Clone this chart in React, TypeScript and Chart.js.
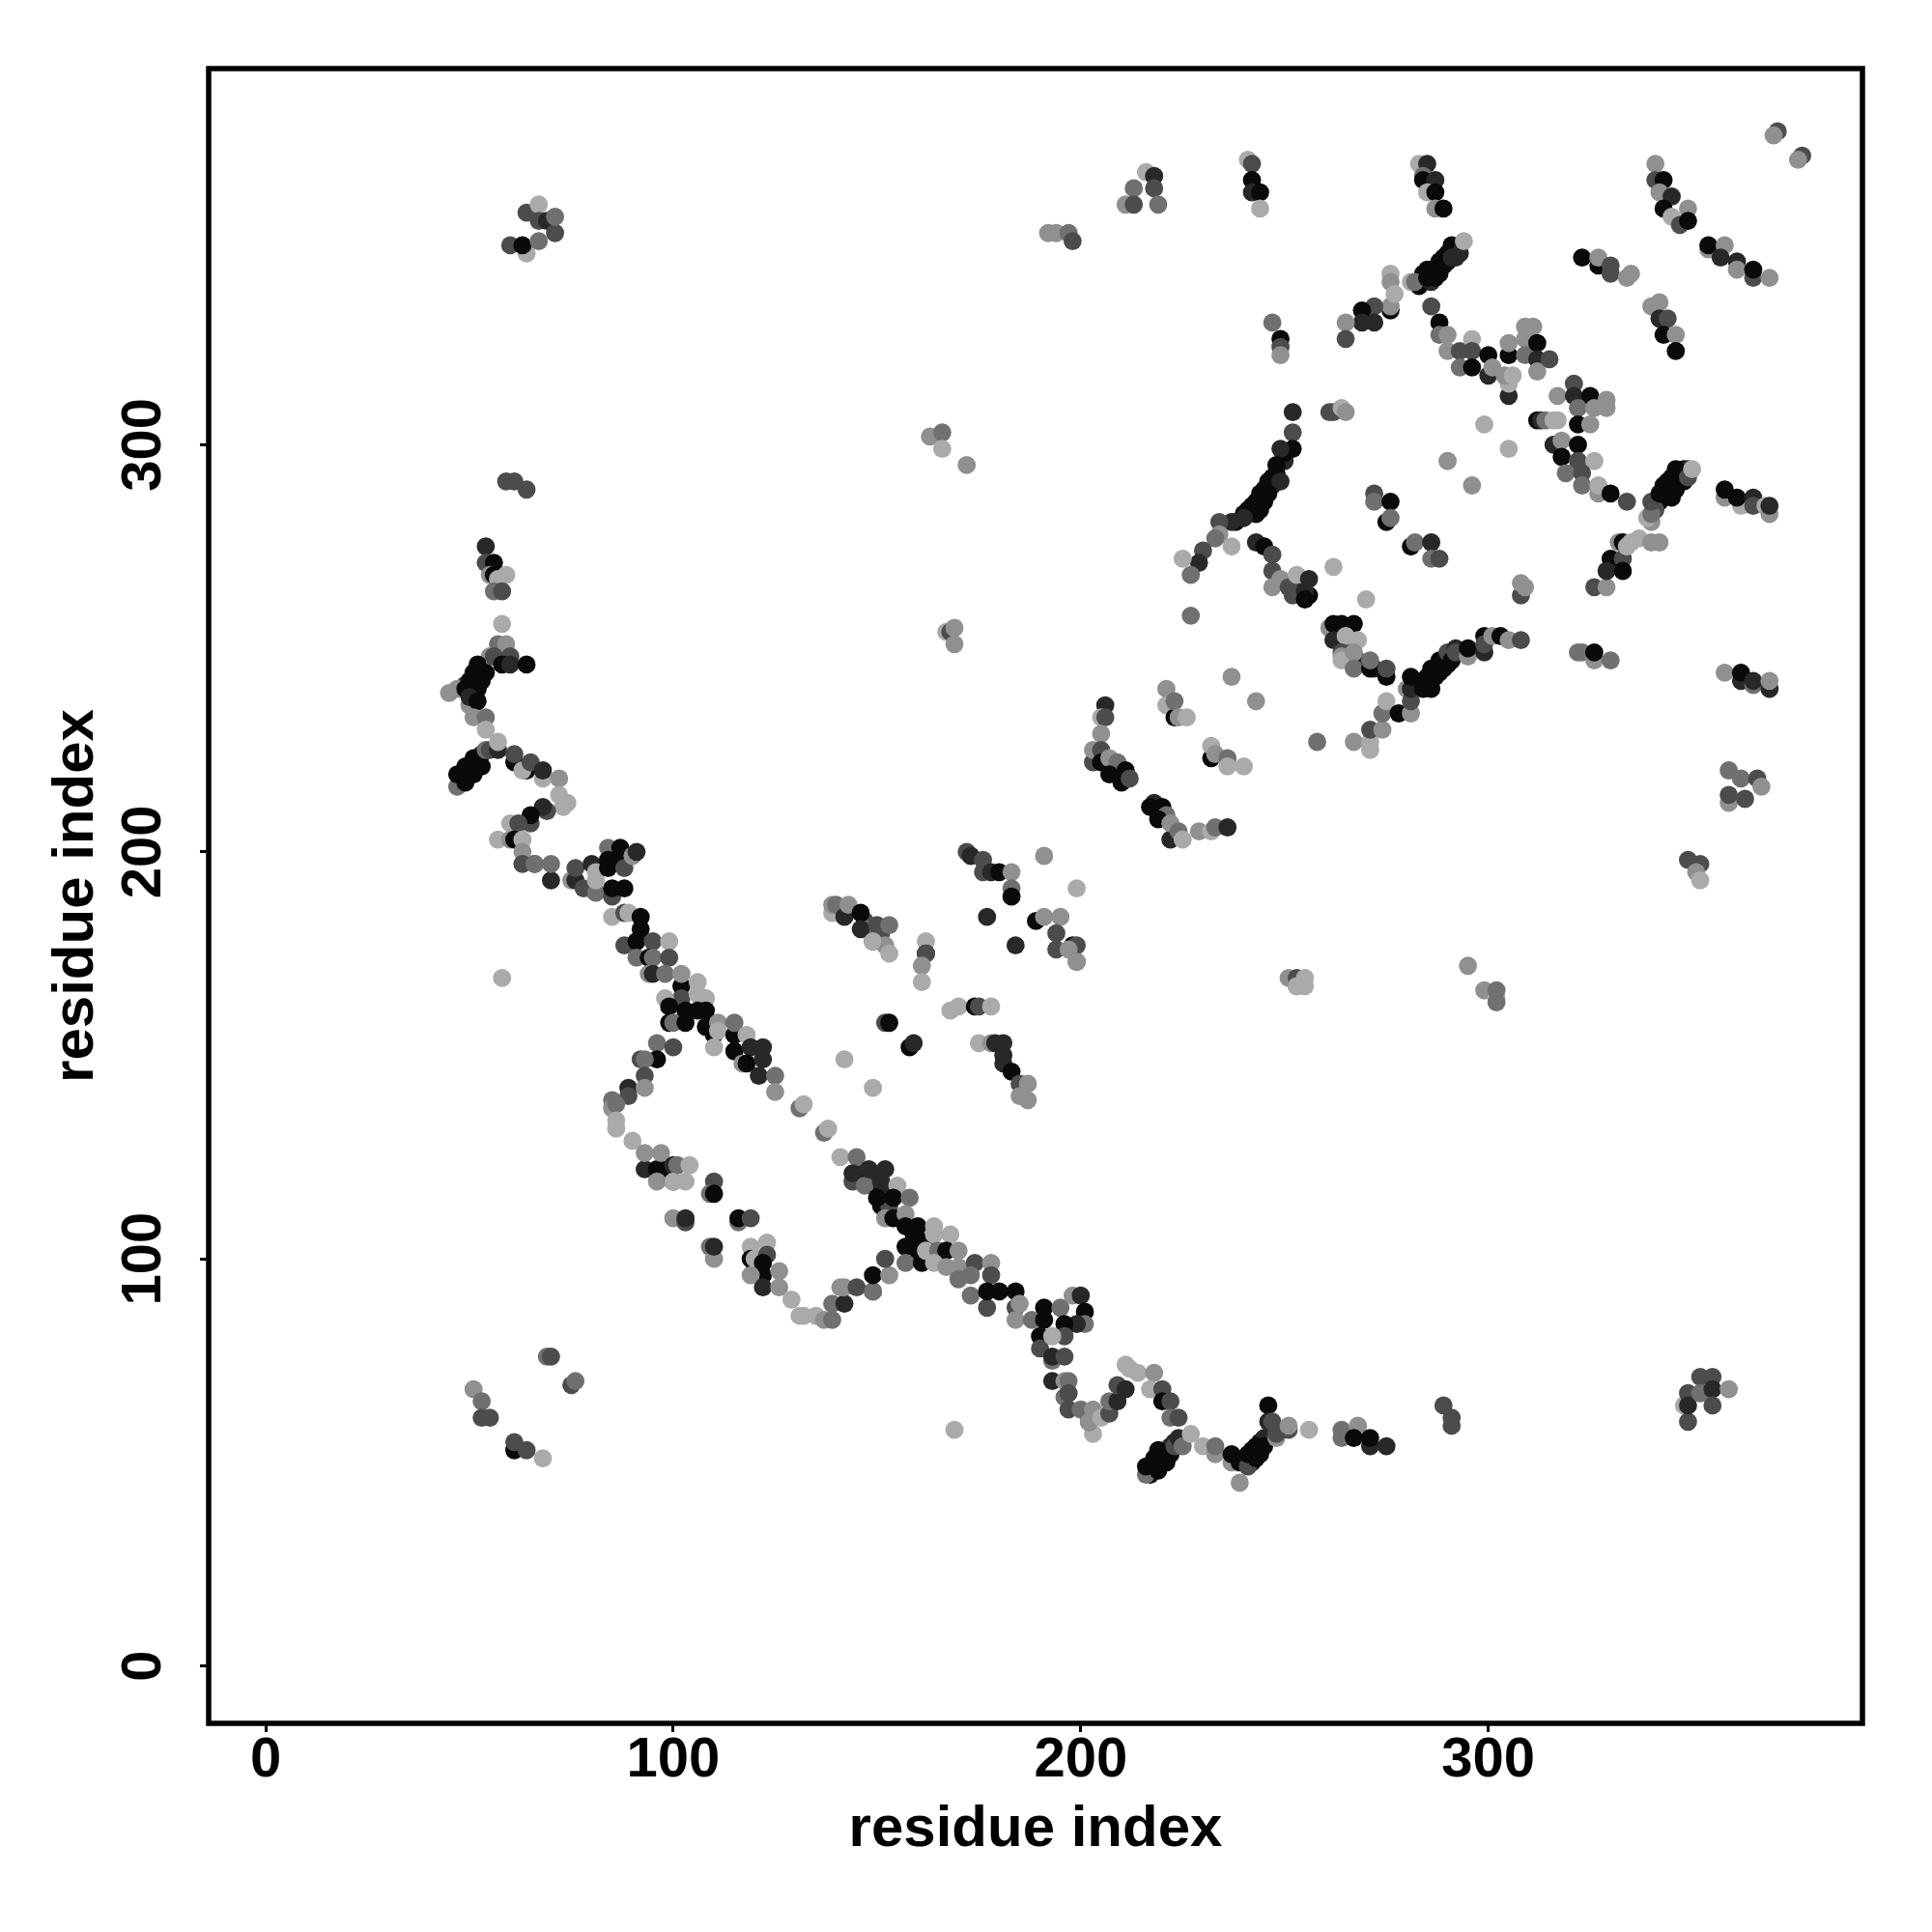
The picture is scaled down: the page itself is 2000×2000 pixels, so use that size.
import React, { useEffect, useRef } from "react";
import { Chart, registerables } from "chart.js";

Chart.register(...registerables);

const tickValues = [0, 100, 200, 300];
const axisTitle = "residue index";
const greys = ["#000000", "#0a0a0a", "#282828", "#4c4c4c", "#707070", "#909090", "#aaaaaa"];

// each row: residue i, residue j, grey level (1 = darkest, 6 = palest)
const denseBands: number[][] = [[217,47,1],[218,49,1],[217,49,1],[219,50,1],[220,51,1],[221,53,1],[222,54,2],[223,55,2],[240,50,1],[242,50,1],[242,53,1],[244,52,1],[244,55,1],[245,56,2],[48,217,1],[48,219,1],[50,219,1],[50,221,1],[52,221,1],[52,223,1],[53,224,2],[50,240,1],[51,238,1],[51,242,1],[52,244,1],[53,245,1],[238,281,1],[240,283,1],[241,284,1],[243,286,1],[245,289,1],[247,292,1],[247,290,2],[248,293,1],[250,296,2],[250,298,1],[243,283,1],[245,286,1],[283,339,1],[284,340,1],[286,340,2],[287,343,1],[288,342,1],[289,346,1],[290,347,1],[290,345,1],[292,348,2],[284,342,1],[285,343,1],[292,346,2],[293,349,3],[341,285,1],[342,286,1],[343,287,1],[344,288,1],[344,291,1],[345,290,1],[346,292,1],[347,291,1],[347,293,1],[348,294,1],[349,294,2],[348,293,2],[341,284,3],[340,281,5],[283,241,1],[285,241,1],[285,243,1],[287,243,1],[287,245,1],[289,245,1],[289,247,2],[290,246,1],[286,240,1],[284,242,1],[147,183,3],[150,180,2],[151,180,3],[152,177,5],[148,181,4],[146,121,2],[148,119,1],[149,120,2],[150,117,1],[152,117,2],[151,113,1],[153,113,3],[159,106,1],[160,102,1],[162,103,1],[163,101,1],[120,98,2],[253,264,2],[254,263,1],[256,263,1],[264,253,1],[266,250,3],[268,247,3],[270,246,2],[272,245,2]];
const helixNorth: number[][] = [[54,275,2],[54,271,3],[56,271,1],[55,268,5],[56,268,1],[57,267,6],[59,268,6],[56,264,4],[58,264,3],[58,256,6],[57,251,4],[59,251,5],[55,248,5],[60,248,3],[56,248,3],[58,246,1],[60,246,2],[64,246,1],[45,239,5],[50,236,5],[49,241,3],[47,240,5],[52,246,1],[51,244,1],[54,244,1],[50,242,1],[53,242,1],[49,240,1],[52,240,1],[50,238,2],[52,237,1],[51,233,5],[54,233,4],[54,230,6],[59,291,3],[61,291,3],[64,289,3],[58,169,6]];
const helixSouth: number[][] = [[47,216,4],[49,217,1],[47,219,1],[49,221,1],[51,223,1],[51,219,1],[53,221,1],[54,225,4],[55,225,3],[57,225,2],[57,227,6],[61,222,1],[61,224,3],[64,220,1],[63,220,6],[65,222,3],[68,218,6],[68,220,2],[72,218,5],[72,214,6],[73,211,6],[74,212,6],[69,210,3],[68,211,2],[65,207,3],[65,209,1],[60,207,6],[62,207,3],[57,203,6],[60,203,5],[61,203,1],[63,203,6],[63,200,5],[63,197,3],[66,197,3],[66,197,4],[70,193,2],[70,197,4],[75,193,5],[76,193,2],[76,196,3],[78,191,3],[81,190,1],[81,190,4],[85,189,3],[80,197,2],[81,195,6],[81,193,6],[84,201,4],[84,198,1],[84,196,1],[87,201,1],[87,199,1],[88,196,3],[90,199,5],[91,200,2],[85,191,1],[88,191,1]];
const diagonalUpper: number[][] = [[85,184,6],[88,185,3],[89,185,6],[92,184,1],[92,181,1],[88,177,3],[91,178,1],[95,178,3],[99,178,6],[91,174,4],[94,174,1],[95,174,4],[99,174,3],[94,170,5],[95,170,2],[98,170,4],[102,167,1],[102,170,5],[106,168,6],[102,164,3],[98,164,6],[106,165,6],[108,164,6],[99,162,1],[103,161,1],[106,161,1],[108,161,1],[99,158,1],[100,158,4],[103,158,1],[108,157,1],[111,158,5],[110,155,1],[111,156,6],[115,155,1],[115,158,4],[118,155,6],[110,152,6],[115,151,1],[119,152,2],[122,152,2],[117,148,5],[118,148,1],[122,149,2],[121,145,2],[125,145,4],[125,141,5],[131,137,4],[132,138,6],[137,131,4],[138,132,6],[141,125,6],[142,149,6],[149,142,6]];
const loopLeft: number[][] = [[96,153,4],[100,152,3],[96,149,1],[92,149,3],[93,149,4],[93,145,3],[89,142,2],[93,142,5],[89,140,3],[85,139,4],[85,137,5],[86,138,4],[86,134,6],[86,132,6],[90,129,6],[93,122,2],[96,122,1],[97,122,1],[93,126,5],[97,126,5],[100,123,2],[101,123,4],[104,123,6],[96,119,5],[100,119,1],[100,119,6],[103,119,6],[110,119,3],[109,116,4],[110,116,1],[100,110,5],[103,109,3],[103,110,2],[116,109,4],[116,110,1],[119,110,3],[109,103,4],[110,100,5],[110,103,2],[119,103,6],[123,104,6],[119,100,1],[120,100,6],[123,101,3],[122,99,1],[122,96,1],[126,97,5],[119,96,5],[122,93,2],[126,93,5],[129,90,6],[131,86,6],[132,86,6],[135,86,6],[137,85,5],[139,85,4],[139,89,4],[142,89,2],[141,93,5],[142,93,5],[145,93,3],[149,92,2],[149,92,4],[149,96,1],[153,96,5],[152,100,3]];
const diagonalLower: number[][] = [[145,125,4],[144,119,3],[144,121,2],[147,118,4],[148,122,2],[152,122,2],[151,119,2],[155,118,6],[150,115,1],[154,115,1],[158,115,4],[152,110,5],[154,110,1],[157,111,5],[157,108,1],[160,108,1],[160,105,1],[164,108,6],[164,106,6],[168,106,6],[157,103,1],[157,99,4],[161,99,1],[162,102,6],[165,102,4],[167,102,1],[170,102,5],[164,99,6],[167,98,5],[170,98,5],[170,95,4],[174,99,3],[178,99,5],[173,96,4],[178,96,3],[173,91,4],[177,88,3],[177,92,1],[180,92,1],[184,92,1],[184,88,3],[185,89,5],[184,85,5],[169,58,6]];
const tailEast: number[][] = [[191,88,1],[188,85,4],[191,85,1],[195,88,4],[198,91,5],[200,91,2],[201,87,1],[201,84,4],[199,84,2],[196,84,1],[190,81,1],[190,78,3],[196,81,3],[193,81,6],[193,75,4],[193,76,2],[196,76,3],[193,70,2],[196,70,5],[197,70,4],[196,66,4],[197,67,3],[197,63,3],[200,63,4],[203,57,6],[202,60,2],[202,60,5],[203,63,5],[205,61,6],[207,62,3],[207,65,4],[209,65,2],[209,69,3],[211,68,2],[211,74,6],[212,73,6],[214,72,6],[218,72,5],[217,68,6],[220,68,3],[220,65,1],[222,65,3],[222,61,4],[224,61,3]];
const tailBottom: number[][] = [[216,47,4],[216,49,1],[218,51,1],[219,48,1],[219,53,1],[221,50,1],[222,52,1],[223,54,3],[224,56,2],[225,54,4],[227,57,6],[230,54,6],[233,52,5],[233,54,4],[237,50,5],[237,52,1],[239,45,5],[239,50,1],[241,49,3],[241,52,1],[243,54,1],[243,51,1],[245,54,1],[248,56,5],[246,64,1],[246,60,2],[247,60,3],[248,57,3],[251,58,3],[251,59,5],[256,58,6],[264,56,4],[264,58,4],[268,59,5],[267,56,1],[271,54,2],[271,56,1],[275,54,2],[289,64,3],[291,59,3],[291,61,3]];
const cornerSouthWest: number[][] = [[51,68,5],[53,65,4],[53,61,3],[55,61,3],[61,53,1],[61,55,3],[64,53,3],[68,51,6],[69,76,4],[70,76,3],[75,69,3],[76,70,4]];
const cornerSouthEast: number[][] = [[348,64,6],[349,60,3],[349,67,3],[349,64,2],[352,71,3],[352,67,4],[355,71,3],[355,68,2],[355,64,3],[359,68,5]];
const cornerNorthWest: number[][] = [[60,349,3],[64,347,6],[63,349,1],[64,357,3],[67,359,6],[67,350,4],[67,355,3],[69,355,2],[71,352,3],[71,356,4]];
const centreBlocks: number[][] = [[139,185,6],[139,187,5],[140,187,4],[142,184,2],[143,187,5],[146,185,1],[146,181,2],[150,182,3],[149,178,2],[149,178,6],[153,182,4],[153,175,6],[162,178,6],[162,175,1],[162,175,3],[161,172,5],[161,168,6],[152,158,3],[153,158,1],[158,152,1],[159,153,2],[168,161,6],[170,162,6],[174,162,1],[175,162,3],[178,162,6],[175,153,6],[178,153,5],[179,153,2],[181,153,2],[181,150,2],[181,148,2],[183,146,1],[185,143,3],[187,143,5],[185,140,5],[187,139,5],[172,200,3],[173,199,2],[176,198,3],[176,195,3],[178,195,2],[180,195,1],[183,195,5],[183,191,4],[183,189,1],[177,184,2],[184,177,2],[191,199,5],[199,191,6],[189,183,1],[191,184,5],[195,184,5],[194,180,3],[194,176,3],[198,177,1],[199,177,3],[197,176,5],[199,173,3],[199,173,5],[163,302,5],[166,303,4],[166,299,6],[172,295,5],[167,254,6],[168,254,3],[169,255,5],[169,251,5]];
const arcTop: number[][] = [[192,352,5],[194,352,5],[197,352,4],[198,350,3],[211,359,5],[213,363,4],[213,359,3],[216,367,6],[218,366,2],[218,363,3],[219,359,4],[241,370,6],[242,369,3],[242,365,1],[242,362,2],[244,362,1],[244,358,6],[283,369,6],[285,369,2],[284,366,4],[284,365,1],[287,365,2],[285,362,6],[287,362,1],[287,358,5],[289,358,1],[371,377,3],[370,376,5],[377,371,3],[376,370,5]];
const strandA: number[][] = [[276,342,6],[276,340,5],[276,333,1],[276,334,5],[277,337,6],[272,334,3],[269,333,1],[272,330,2],[269,330,2],[265,330,5],[265,326,3],[281,340,6],[282,340,4],[285,341,1],[286,343,1],[287,341,1],[288,345,1],[289,344,1],[291,349,1],[291,346,2],[293,347,2],[294,350,6],[286,334,3],[288,330,1],[288,327,4],[290,327,5],[290,323,5],[293,323,3],[293,319,4],[296,326,6],[296,323,3],[296,319,1],[300,322,1],[300,317,2],[301,319,5],[305,322,1],[305,325,5],[305,312,2],[305,315,6],[304,317,5],[306,317,6],[309,329,5],[311,329,5],[309,326,5],[309,322,4],[312,325,1],[312,321,2],[312,318,5],[315,321,3]];
const strandB: number[][] = [[317,312,5],[321,315,3],[321,312,2],[325,312,1],[322,309,4],[329,311,5],[329,309,5],[326,309,5],[312,306,1],[313,306,2],[314,306,4],[316,306,6],[317,306,6],[322,305,1],[325,305,5],[316,300,2],[318,301,5],[322,300,1],[318,297,1],[322,296,3],[326,296,6],[319,293,4],[323,293,3],[323,290,4],[327,288,5],[327,290,6],[330,288,1],[334,286,3],[339,282,6],[340,283,4],[340,286,3],[342,288,1],[343,290,1],[345,292,1],[346,294,1],[345,287,1],[346,289,1],[348,291,1],[349,292,3],[350,294,6],[358,287,5],[358,289,1],[362,285,6],[361,287,1],[365,287,2],[365,285,3],[368,285,6],[369,283,5],[369,285,2]];
const strandC: number[][] = [[341,369,5],[341,365,3],[343,365,1],[342,362,5],[345,361,2],[343,358,1],[349,358,5],[345,356,6],[347,354,3],[349,355,1],[354,348,5],[354,349,1],[358,349,5],[357,346,2],[361,345,2],[361,343,5],[365,341,3],[365,343,1],[369,341,5],[323,346,1],[327,344,1],[327,346,5],[330,344,3],[330,342,3],[334,341,5],[335,342,5],[340,334,5],[342,335,5],[342,331,2],[344,331,3],[343,327,1],[346,327,5],[346,323,1],[262,308,3],[261,308,3],[264,309,6],[265,308,5],[299,305,6],[305,299,6],[290,296,5],[296,290,5],[272,288,3],[272,286,4],[276,286,1],[275,281,1],[276,282,4],[281,275,1],[282,276,4],[286,276,2],[286,272,4],[288,272,3],[262,270,6],[270,262,6],[308,263,3],[308,266,5],[309,265,5],[326,265,3],[329,265,5],[330,272,1],[333,272,3],[329,269,2],[333,269,1],[332,276,5],[333,276,1],[334,275,6],[335,276,6],[337,277,6],[340,276,5],[342,276,5]];
const strandD: number[][] = [[227,258,4],[237,243,5],[243,237,5],[258,227,4],[267,227,5],[271,225,6],[271,227,6],[271,230,3],[274,230,5],[274,234,4],[275,237,6],[278,234,1],[281,234,5],[280,240,5],[281,237,3],[281,240,2],[281,243,1],[284,240,1],[286,242,1],[286,245,1],[288,244,1],[288,247,1],[290,249,3],[291,247,1],[292,250,2],[292,249,3],[295,248,5],[295,250,1],[299,249,2],[299,253,1],[299,251,3],[301,253,5],[303,253,1],[305,252,5],[308,252,3],[261,255,5],[262,256,1],[264,256,1],[267,256,1],[262,252,2],[265,253,6],[268,252,6],[264,249,3],[264,248,5],[264,247,6],[267,249,5],[267,245,4],[271,245,1],[271,247,4],[275,243,1],[275,245,3]];
const strandE: number[][] = [[206,236,2],[205,233,6],[206,233,3],[205,229,5],[203,222,3],[203,225,5],[205,225,3],[205,222,1],[207,223,5],[209,222,4],[207,219,1],[210,217,1],[211,220,1],[212,218,3],[221,240,5],[221,236,6],[223,233,1],[223,237,4],[224,233,5],[226,233,6],[232,223,1],[232,226,6],[233,224,5],[236,223,4],[236,221,6],[240,221,6],[218,212,2],[217,211,1],[220,211,1],[221,209,4],[219,208,1],[222,203,2],[222,207,5],[224,205,4],[225,203,6],[229,205,5],[232,205,6],[233,206,4],[236,206,2]];
const strandF: number[][] = [[252,308,2],[252,303,3],[252,299,1],[249,299,2],[248,295,1],[246,291,1],[249,291,2],[244,288,1],[246,288,1],[242,285,1],[244,284,1],[240,282,2],[237,281,2],[234,281,3],[234,278,5],[233,277,4],[237,275,6],[230,274,3],[229,271,2],[225,272,6],[227,268,4],[243,276,2],[245,275,1],[247,273,3],[247,269,3],[247,265,5],[249,267,5],[251,265,3],[252,263,3],[253,268,6],[255,264,2],[255,262,1],[256,267,2],[247,330,4],[249,326,1],[249,324,3],[249,322,5]];
const strandG: number[][] = [[251,169,5],[253,169,3],[253,167,4],[253,167,6],[255,167,6],[255,169,6],[295,172,5],[299,166,5],[302,164,6],[302,163,4],[302,166,4],[358,244,5],[362,242,2],[362,244,1],[365,241,4],[365,242,2],[369,240,2],[369,242,5],[322,249,4],[323,249,4],[326,247,5],[326,249,1],[330,247,4],[359,220,4],[362,218,4],[366,218,3],[359,212,5],[359,214,3],[363,213,3],[367,216,5],[349,198,3],[352,197,3],[351,195,5],[352,193,6]];

const contacts = [
  ...denseBands, ...helixNorth, ...helixSouth, ...diagonalUpper, ...loopLeft, ...diagonalLower, ...tailEast, ...tailBottom,
  ...cornerSouthWest, ...cornerSouthEast, ...cornerNorthWest, ...centreBlocks, ...arcTop,
  ...strandA, ...strandB, ...strandC, ...strandD, ...strandE, ...strandF, ...strandG,
];

const FONT = "'Liberation Sans', Arial, sans-serif";

const framePlugin = {
  id: "frame",
  afterDraw(chart: any) {
    const { ctx, chartArea: a, scales } = chart;
    ctx.save();
    ctx.strokeStyle = "#000";
    ctx.lineWidth = 5.5;
    ctx.strokeRect(a.left, a.top, a.right - a.left, a.bottom - a.top);
    ctx.fillStyle = "#000";
    ctx.font = `bold 58px ${FONT}`;
    ctx.textAlign = "center";
    ctx.textBaseline = "middle";
    for (const v of tickValues) {
      ctx.save();
      ctx.translate(150, scales.y.getPixelForValue(v));
      ctx.rotate(-Math.PI / 2);
      ctx.fillText(String(v), 0, 0);
      ctx.restore();
    }
    ctx.restore();
  },
};

export default function App() {
  const ref = useRef<HTMLCanvasElement>(null);
  useEffect(() => {
    if (!ref.current) return;
    const setTicks = (s: any) => {
      s.ticks = tickValues.map((value) => ({ value }));
    };
    const chart = new Chart(ref.current, {
      type: "scatter",
      data: {
        datasets: [
          {
            data: contacts.map(([x, y]) => ({ x, y })),
            pointBackgroundColor: contacts.map((c) => greys[c[2]]),
            pointBorderWidth: 0,
            pointRadius: 9.4,
            showLine: false,
          } as any,
        ],
      },
      options: {
        responsive: false,
        animation: false,
        layout: { padding: { left: 0, top: 71, right: 72, bottom: 0 } },
        plugins: { legend: { display: false }, tooltip: { enabled: false } },
        scales: {
          x: {
            type: "linear",
            min: -14,
            max: 391.8,
            afterBuildTicks: setTicks,
            afterFit: (s: any) => {
              s.height = 216;
            },
            border: { display: false },
            grid: { drawOnChartArea: false, drawTicks: true, tickLength: 9, tickWidth: 3, tickColor: "#000" },
            ticks: { color: "#000", font: { family: FONT, size: 58, weight: "bold" }, padding: -5, maxRotation: 0, autoSkip: false },
            title: { display: true, text: axisTitle, color: "#000", font: { family: FONT, size: 60, weight: "bold", lineHeight: 1 }, padding: { top: 0, bottom: 76 } },
          },
          y: {
            type: "linear",
            min: -14.1,
            max: 392.4,
            afterBuildTicks: setTicks,
            afterFit: (s: any) => {
              s.width = 216;
            },
            border: { display: false },
            grid: { drawOnChartArea: false, drawTicks: true, tickLength: 9, tickWidth: 3, tickColor: "#000" },
            ticks: { display: false },
            title: { display: true, text: axisTitle, color: "#000", font: { family: FONT, size: 60, weight: "bold", lineHeight: 1 }, padding: { top: 49, bottom: 0 } },
          },
        },
      } as any,
      plugins: [framePlugin],
    });
    return () => chart.destroy();
  }, []);
  return (
    <div style={{ position: "absolute", left: 0, top: 0, width: 2000, height: 2000 }}>
      <canvas ref={ref} width={2000} height={2000} style={{ display: "block", width: 2000, height: 2000 }} />
    </div>
  );
}
